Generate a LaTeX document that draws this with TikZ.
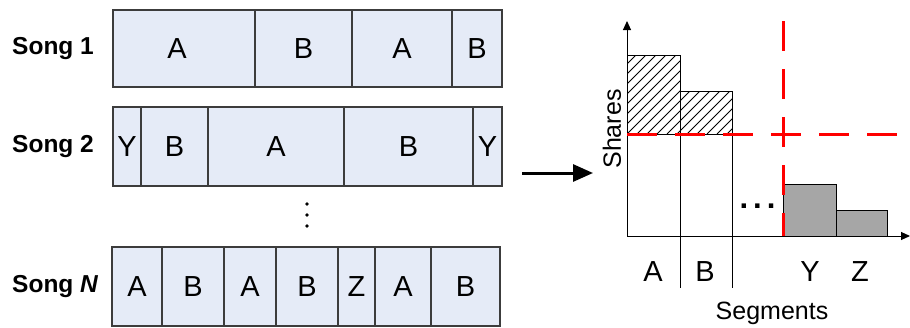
\documentclass[tikz,border=0pt]{standalone}
\usepackage{fontspec}
\setmainfont{Liberation Sans}
\usetikzlibrary{arrows.meta}
\definecolor{segfill}{RGB}{229,235,247}
\definecolor{segline}{RGB}{60,60,60}
\definecolor{barfill}{RGB}{166,166,166}
\tikzset{
  seg/.style={draw=segline, line width=1.2pt, fill=segfill, inner sep=0pt,
              font=\fontsize{29}{31}\selectfont},
  songlabel/.style={anchor=west, inner sep=0pt, font=\fontsize{24.5}{26}\selectfont\bfseries},
  chartlabel/.style={inner sep=0pt, font=\fontsize{29}{31}\selectfont},
  axislabel/.style={inner sep=0pt, font=\fontsize{25}{27}\selectfont},
  thinline/.style={line width=1pt, black},
  reddash/.style={red, line width=3pt, dash pattern=on 30pt off 18pt},
}
\begin{document}
\begin{tikzpicture}[x=1pt, y=1pt]
\useasboundingbox (0,0) rectangle (910,-327);

% ---- song rows: each segment is a box from left edge to right edge ----
\foreach \l/\r/\t/\dx [count=\i] in {113/255/A/-7, 255/352/B/0, 352/452/A/0, 452/502/B/0} {
  \pgfmathsetmacro\w{\r-\l}\pgfmathsetmacro\c{(\r+\l)/2}
  \node[seg, minimum width=\w pt, minimum height=77pt] (s1-\i) at (\c,-48.5) {\hspace*{\dx pt}\t\hspace*{-\dx pt}};
}
\foreach \l/\r/\t [count=\i] in {113/141/Y, 141/208/B, 208/344/A, 344/473/B, 473/502/Y} {
  \pgfmathsetmacro\w{\r-\l}\pgfmathsetmacro\c{(\r+\l)/2}
  \node[seg, minimum width=\w pt, minimum height=79pt] (s2-\i) at (\c,-146.5) {\t};
}
\foreach \l/\r/\t [count=\i] in {112/162/A, 162/224/B, 224/276/A, 276/338/B, 338/375/Z, 375/431/A, 431/500/B} {
  \pgfmathsetmacro\w{\r-\l}\pgfmathsetmacro\c{(\r+\l)/2}
  \node[seg, minimum width=\w pt, minimum height=79pt] (sn-\i) at (\c,-286.5) {\t};
}

\node[songlabel] (lab1) at (12,-48.5) {Song 1};
\node[songlabel] (lab2) at (12,-146.5) {Song 2};
\node[songlabel] (labn) at (12,-286.5) {Song \textit{N}};

% vertical ellipsis between the rows
\foreach \yy in {-204,-215,-226} \fill (307,\yy) circle (1.8pt);

% ---- transition arrow ----
\coordinate (arrS) at (522,-173);
\coordinate (arrE) at (593,-173);
\draw[line width=3pt, -{Triangle[length=20pt,width=17pt]}] (arrS) -- (arrE);

% ---- share chart ----
\coordinate (O) at (627,-236);
\coordinate (ytop) at (627,-21);
\coordinate (xend) at (910,-236);

% bars of the dominant segments
\draw[thinline] (627,-55) rectangle (680,-236);
\draw[thinline] (680,-91) rectangle (732,-236);
\begin{scope}
  \clip (627,-55) rectangle (680,-134) (680,-91) rectangle (732,-134);
  \foreach \k in {-120,-110,...,120}
    \draw[line width=0.8pt] (627+\k,-134) -- ++(110,110);
\end{scope}
\draw[thinline] (627,-55) rectangle (680,-134);
\draw[thinline] (680,-91) rectangle (732,-134);
% segment separators below the axis
\draw[thinline] (680,-91) -- (680,-288);
\draw[thinline] (732,-91) -- (732,-288);

% bars of the rare segments
\draw[thinline, fill=barfill] (783,-184) rectangle (836,-236);
\draw[thinline, fill=barfill] (836,-210) rectangle (887,-236);

% axes
\draw[thinline, -{Triangle[length=9pt,width=8pt]}] (O) -- (ytop);
\draw[thinline, -{Triangle[length=9pt,width=8pt]}] (O) -- (xend);

% thresholds
\draw[reddash] (627,-134) -- (903,-134);
\draw[reddash] (783,-21) -- (783,-236);

% labels
\node[chartlabel, font=\fontsize{31}{33}\selectfont\bfseries] (dots) at (757.5,-206) {.\hspace{5pt}.\hspace{5pt}.};
\node[chartlabel] (la) at (653,-272) {A};
\node[chartlabel] (lb) at (705,-272) {B};
\node[chartlabel] (ly) at (810,-272) {Y};
\node[chartlabel] (lz) at (860,-272) {Z};
\node[axislabel] (segs) at (772,-313) {Segments};
\node[axislabel, rotate=90] (shares) at (612,-129) {Shares};
\end{tikzpicture}
\end{document}
